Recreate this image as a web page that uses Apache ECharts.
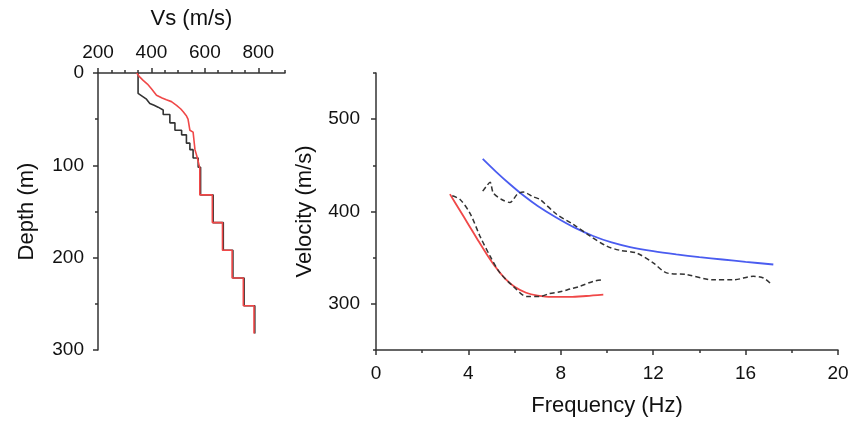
<!DOCTYPE html>
<html>
<head>
<meta charset="utf-8">
<script src="https://cdn.jsdelivr.net/npm/echarts@6/dist/echarts.min.js"></script>
<style>
html,body{margin:0;padding:0;background:#fff;}
#chart{width:852px;height:424px;}
</style>
</head>
<body>
<div id="chart"></div>
<script>
// ---- Left panel: Vs profiles [Vs (m/s), depth (m)] ----
const profileBlack = [[350,0],[350,22],[365,25],[380,28],[394,33],[410,35],[425,37],[444,40],[444,45],[469,45],[469,54],[488,54],[488,62],[513,62],[513,67],[531,67],[531,76],[544,76],[544,83],[556,83],[556,92],[575,92],[575,102],[584,102],[584,132],[631,132],[631,162],[669,162],[669,192],[705,192],[705,222],[747,222],[747,252],[787,252],[787,282]];
const profileRed = [[345,0],[355,4],[369,8],[385,12],[400,17],[419,24],[440,27],[456,29],[475,31],[494,35],[510,39],[519,42],[530,46],[537,50],[544,62],[556,64],[563,66],[563,83],[572,92],[581,103],[581,132],[628,132],[628,162],[666,162],[666,192],[702,192],[702,222],[744,222],[744,252],[784,252],[784,282]];
const vsMajorTicks = [200,400,600,800];
const vsMinorTicks = [250,300,350,450,500,550,650,700,750,850,900];
const depthMajorTicks = [0,100,200,300];
const depthMinorTicks = [50,150,250];

// ---- Right panel: dispersion curves [frequency (Hz), velocity (m/s)] ----
const blueModel = [[4.62,457],[5.2,443],[5.8,429.5],[6.4,417],[7.0,406],[7.8,393.5],[8.6,382.5],[9.4,373.5],[10.2,366.5],[11.0,361.5],[12.0,357],[13.0,353.5],[14.0,350.5],[15.0,348],[16.0,345.5],[17.2,342.6]];
const redModel = [[3.2,418.8],[3.6,402.5],[4.0,386],[4.4,369.5],[4.8,353.5],[5.2,339],[5.6,327],[6.0,318.5],[6.5,312],[7.0,309],[7.6,307.5],[8.4,307.5],[9.1,308.5],[9.84,310]];
const dashedFundamental = [[3.3,417],[3.64,413],[4.07,398],[4.5,373.4],[4.94,351.6],[5.37,333.5],[5.94,319],[6.52,308],[7.1,308],[7.5,311],[7.97,313],[8.4,316],[8.83,319],[9.41,324.4],[9.84,326]];
const dashedHigher = [[4.62,422],[4.8,428],[4.94,431.6],[5.08,420],[5.44,413],[5.8,409.8],[6.12,418.8],[6.38,421],[6.8,416],[7.1,413],[7.82,397],[8.54,386],[9.26,373.5],[9.99,362.5],[10.56,358],[11.28,355],[12.0,344.4],[12.58,333.5],[13.45,331.7],[14.6,326],[15.47,326],[16.33,329.8],[16.77,328],[17.13,320.8]];
const freqMajorTicks = [0,4,8,12,16,20];
const freqMinorTicks = [2,6,10,14,18];
const velMajorTicks = [300,400,500];
const velMinorTicks = [250,350,450,550];

const FONT = '"Liberation Sans", Arial, Helvetica, sans-serif';
const TXT = '#111';
const AX = '#333';
const lineStyle = {color: AX, width: 1.5};

function majorAxis(extra) {
  return Object.assign({
    type: 'value',
    axisLine: {show: true, onZero: false, lineStyle: lineStyle},
    axisTick: {show: true, inside: false, length: 5, lineStyle: lineStyle},
    axisLabel: {color: TXT, fontFamily: FONT, fontSize: 19},
    splitLine: {show: false},
    nameTextStyle: {color: TXT, fontFamily: FONT, fontSize: 22},
    nameLocation: 'middle'
  }, extra);
}
function minorAxis(extra) {
  return Object.assign({
    type: 'value',
    axisLine: {show: false, onZero: false},
    axisLabel: {show: false},
    splitLine: {show: false}
  }, extra);
}

const chart = echarts.init(document.getElementById('chart'), null, {renderer: 'canvas'});
chart.setOption({
  animation: false,
  backgroundColor: '#fff',
  grid: [
    {left: 98, top: 73, width: 187, height: 277, outerBoundsMode: 'none', containLabel: false},
    {left: 376, top: 73, width: 462, height: 277, outerBoundsMode: 'none', containLabel: false}
  ],
  xAxis: [
    majorAxis({gridIndex: 0, position: 'top', min: 200, max: 900,
      name: 'Vs (m/s)', nameGap: 43,
      axisTick: {show: true, length: 5, lineStyle: lineStyle, customValues: vsMajorTicks},
      axisLabel: {color: TXT, fontFamily: FONT, fontSize: 19, margin: 11, customValues: vsMajorTicks}}),
    minorAxis({gridIndex: 0, position: 'top', min: 200, max: 900,
      axisTick: {show: true, length: 3, lineStyle: lineStyle, customValues: vsMinorTicks}}),
    majorAxis({gridIndex: 1, position: 'bottom', min: 0, max: 20,
      name: 'Frequency (Hz)', nameGap: 45,
      axisTick: {show: true, length: 5, lineStyle: lineStyle, customValues: freqMajorTicks},
      axisLabel: {color: TXT, fontFamily: FONT, fontSize: 19, margin: 14, customValues: freqMajorTicks}}),
    minorAxis({gridIndex: 1, position: 'bottom', min: 0, max: 20,
      axisTick: {show: true, length: 3, lineStyle: lineStyle, customValues: freqMinorTicks}})
  ],
  yAxis: [
    majorAxis({gridIndex: 0, position: 'left', min: 0, max: 300, inverse: true,
      name: 'Depth (m)', nameGap: 60,
      axisTick: {show: true, length: 5, lineStyle: lineStyle, customValues: depthMajorTicks},
      axisLabel: {color: TXT, fontFamily: FONT, fontSize: 19, margin: 14, customValues: depthMajorTicks}}),
    minorAxis({gridIndex: 0, position: 'left', min: 0, max: 300, inverse: true,
      axisTick: {show: true, length: 3, lineStyle: lineStyle, customValues: depthMinorTicks}}),
    majorAxis({gridIndex: 1, position: 'left', min: 250, max: 550,
      name: 'Velocity (m/s)', nameGap: 60,
      axisTick: {show: true, length: 5, lineStyle: lineStyle, customValues: velMajorTicks},
      axisLabel: {color: TXT, fontFamily: FONT, fontSize: 19, margin: 16, customValues: velMajorTicks}}),
    minorAxis({gridIndex: 1, position: 'left', min: 250, max: 550,
      axisTick: {show: true, length: 3, lineStyle: lineStyle, customValues: velMinorTicks}})
  ],
  series: [
    {type: 'line', xAxisIndex: 0, yAxisIndex: 0, data: profileBlack, showSymbol: false, silent: true,
      lineStyle: {color: '#333', width: 1.6}},
    {type: 'line', xAxisIndex: 0, yAxisIndex: 0, data: profileRed, showSymbol: false, silent: true,
      lineStyle: {color: '#f04848', width: 1.6}},
    {type: 'line', xAxisIndex: 2, yAxisIndex: 2, data: blueModel, showSymbol: false, silent: true,
      smooth: 0.3, lineStyle: {color: '#4a5cf0', width: 1.8}},
    {type: 'line', xAxisIndex: 2, yAxisIndex: 2, data: redModel, showSymbol: false, silent: true,
      smooth: 0.3, lineStyle: {color: '#f04848', width: 1.8}},
    {type: 'line', xAxisIndex: 2, yAxisIndex: 2, data: dashedFundamental, showSymbol: false, silent: true, smooth: 0.3,
      lineStyle: {color: '#333', width: 1.5, type: [5, 3]}},
    {type: 'line', xAxisIndex: 2, yAxisIndex: 2, data: dashedHigher, showSymbol: false, silent: true, smooth: 0.3,
      lineStyle: {color: '#333', width: 1.5, type: [5, 3]}}
  ]
});
</script>
</body>
</html>
